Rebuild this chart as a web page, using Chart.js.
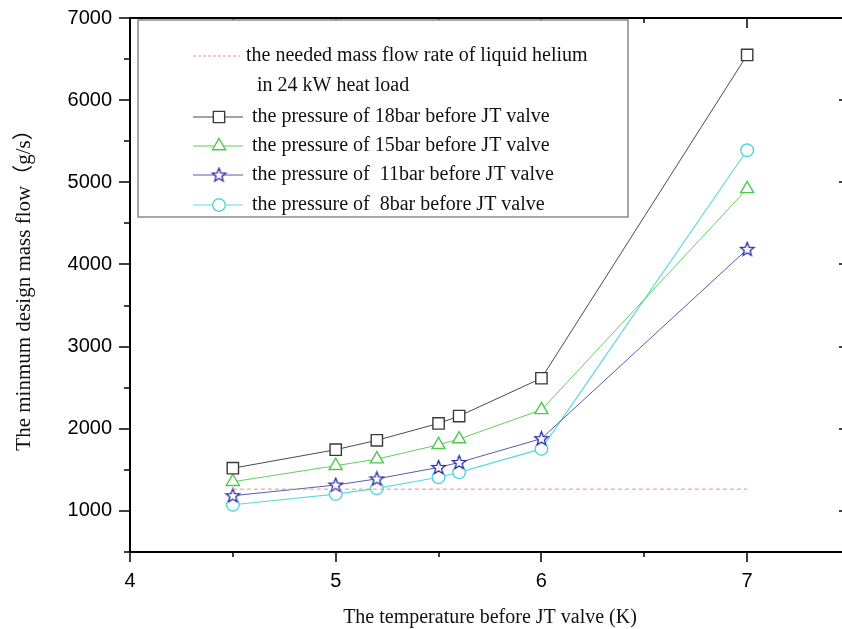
<!DOCTYPE html>
<html>
<head>
<meta charset="utf-8">
<script src="https://cdn.jsdelivr.net/npm/chart.js@4/dist/chart.umd.min.js"></script>
<style>
html,body{margin:0;padding:0;background:#fff;overflow:hidden}
#wrap{position:absolute;left:0;top:0;width:860px;height:629px}
</style>
</head>
<body>
<div id="wrap"><canvas id="chart" width="860" height="629"></canvas></div>
<script>
// temperature before JT valve (K)
let temps=[4.5,5.0,5.2,5.5,5.6,6.0,7.0]

// minimum design mass flow (g/s) for each pressure
let p18=[1520,1745,1860,2065,2155,2615,6550]
let p15=[1355,1550,1630,1805,1875,2230,4920]
let p11=[1185,1315,1390,1530,1590,1880,4185]
let p8=[1075,1205,1275,1410,1470,1755,5390]

// needed flow in 24 kW heat load
let needX=[4.5,7.0]
let needY=[1265,1265]

let xTitle="The temperature before JT valve (K)"
let yTitle="The minmum design mass flow（g/s）"
let legendText=[
"the needed mass flow rate of liquid helium",
"in 24 kW heat load",
"the pressure of 18bar before JT valve",
"the pressure of 15bar before JT valve",
"the pressure of  11bar before JT valve",
"the pressure of  8bar before JT valve"
]

function pts(xs,ys){
return xs.map((x,i)=>({x:x,y:ys[i]}))
}

// hollow five point star, chart.js 'star' is an asterisk
function makeStar(color){
let c=document.createElement("canvas")
c.width=17;c.height=17
let g=c.getContext("2d")
g.beginPath()
for(let i=0;i<10;i++){
let r=i%2==0?7.2:3.1
let a=-Math.PI/2+i*Math.PI/5
g.lineTo(8.5+r*Math.cos(a),8.8+r*Math.sin(a))
}
g.closePath()
g.fillStyle="#fff"
g.fill()
g.strokeStyle=color
g.lineWidth=1.3
g.stroke()
return c
}
let star=makeStar("#2a2aa6")

// extra ticks: minor ones and the mirrored top / right axes
let frame={
id:"frame",
afterDraw(chart){
let ctx=chart.ctx
let a=chart.chartArea
let xs=chart.scales.x, ys=chart.scales.y
ctx.save()
ctx.strokeStyle="#000"
ctx.lineWidth=2
ctx.beginPath()
ctx.moveTo(a.left,a.top);ctx.lineTo(a.right,a.top)
ctx.stroke()
ctx.lineWidth=1.5
ctx.beginPath()
for(let v=500;v<=7000;v+=500){
let py=Math.round(ys.getPixelForValue(v))
let len=v%1000==0?11:6
ctx.moveTo(a.left-len,py);ctx.lineTo(a.left,py)
ctx.moveTo(a.right,py);ctx.lineTo(a.right-len,py)
}
for(let v=4;v<=7.5;v+=0.5){
let px=Math.round(xs.getPixelForValue(v))
let len=Number.isInteger(v)?10:5
ctx.moveTo(px,a.bottom);ctx.lineTo(px,a.bottom+len)
ctx.moveTo(px,a.top);ctx.lineTo(px,a.top+len)
}
ctx.stroke()
ctx.restore()
}
}

// legend box sitting inside the plot, origin style
let boxLegend={
id:"boxLegend",
afterDraw(chart){
let ctx=chart.ctx
let a=chart.chartArea
let bx=a.left+8, by=a.top+2
ctx.save()
ctx.fillStyle="#fff"
ctx.fillRect(bx,by,490,197)
ctx.strokeStyle="#8a8a8a"
ctx.lineWidth=1.5
ctx.strokeRect(bx,by,490,197)
ctx.font="20px 'Liberation Serif'"
ctx.fillStyle="#111"
ctx.textBaseline="middle"
let x0=bx+55, x1=bx+105, xm=bx+81
let rows=[by+36,by+66,by+97,by+126,by+155,by+185]

let d=chart.data.datasets
// dashed sample
ctx.strokeStyle=d[0].borderColor
ctx.lineWidth=1
ctx.setLineDash([3,2])
ctx.beginPath();ctx.moveTo(x0,rows[0]);ctx.lineTo(x1-3,rows[0]);ctx.stroke()
ctx.setLineDash([])
ctx.fillText(legendText[0],bx+108,rows[0])
ctx.fillText(legendText[1],bx+119,rows[1])

for(let i=1;i<5;i++){
let y=rows[i+1]
ctx.strokeStyle=d[i].borderColor
ctx.lineWidth=1.2
ctx.beginPath();ctx.moveTo(x0,y);ctx.lineTo(x1,y);ctx.stroke()
ctx.strokeStyle=d[i].pointBorderColor
ctx.fillStyle="#fff"
ctx.lineWidth=d[i].pointBorderWidth
Chart.helpers.drawPoint(ctx,{pointStyle:d[i].pointStyle,radius:d[i].pointRadius,rotation:0,borderWidth:d[i].pointBorderWidth},xm,y)
ctx.fillStyle="#111"
ctx.fillText(legendText[i+1],bx+114,y)
}
ctx.restore()
}
}

new Chart(document.getElementById("chart"),{
type:"line",
data:{
datasets:[
{
label:"need",
data:pts(needX,needY),
borderColor:"#f08a8a",
borderWidth:1,
borderDash:[4,3],
pointRadius:0
},
{
label:"18bar",
data:pts(temps,p18),
borderColor:"#4a4a4a",
borderWidth:1,
pointStyle:"rect",
pointRadius:8,
pointBorderColor:"#3a3a3a",
pointBackgroundColor:"#fff",
pointBorderWidth:1.4
},
{
label:"15bar",
data:pts(temps,p15),
borderColor:"#5fcf5f",
borderWidth:1,
pointStyle:"triangle",
pointRadius:7.5,
pointBorderColor:"#4cc94c",
pointBackgroundColor:"#fff",
pointBorderWidth:1.4
},
{
label:"11bar",
data:pts(temps,p11),
borderColor:"#5a5ab0",
borderWidth:1,
pointStyle:star,
pointRadius:7,
pointBorderColor:"#2a2aa6",
pointBackgroundColor:"#fff",
pointBorderWidth:1.3
},
{
label:"8bar",
data:pts(temps,p8),
borderColor:"#5fd9e0",
borderWidth:1.2,
pointStyle:"circle",
pointRadius:6.3,
pointBorderColor:"#55d4e0",
pointBackgroundColor:"#fff",
pointBorderWidth:1.4
}
]
},
options:{
responsive:false,
animation:false,
layout:{autoPadding:false,padding:{top:18,right:10,left:0,bottom:0}},
plugins:{legend:{display:false},tooltip:{enabled:false}},
scales:{
x:{
type:"linear",
min:4,max:7.5,
afterFit:s=>{s.height=77;s.paddingLeft=0;s.paddingRight=0},
grid:{display:false,drawTicks:false},
border:{display:true,color:"#000",width:2},
ticks:{
stepSize:0.5,
autoSkip:false,
maxRotation:0,
padding:17,
color:"#000",
font:{family:"'Liberation Sans'",size:20},
callback:v=>Number.isInteger(v)?v:""
},
title:{
display:true,
text:xTitle,
color:"#111",
font:{family:"'Liberation Serif'",size:20},
padding:{top:0,bottom:-1}
}
},
y:{
min:500,max:7000,
afterFit:s=>{s.width=130;s.paddingTop=0;s.paddingBottom=0},
grid:{display:false,drawTicks:false},
border:{display:true,color:"#000",width:2},
ticks:{
stepSize:500,
autoSkip:false,
padding:18,
color:"#000",
font:{family:"'Liberation Sans'",size:20},
callback:v=>v%1000==0?v:""
},
title:{
display:true,
text:yTitle,
color:"#111",
font:{family:"'Liberation Serif', 'Noto Sans CJK SC'",size:21},
padding:{top:12,bottom:0}
}
}
}
},
plugins:[frame,boxLegend]
})
</script>
</body>
</html>
